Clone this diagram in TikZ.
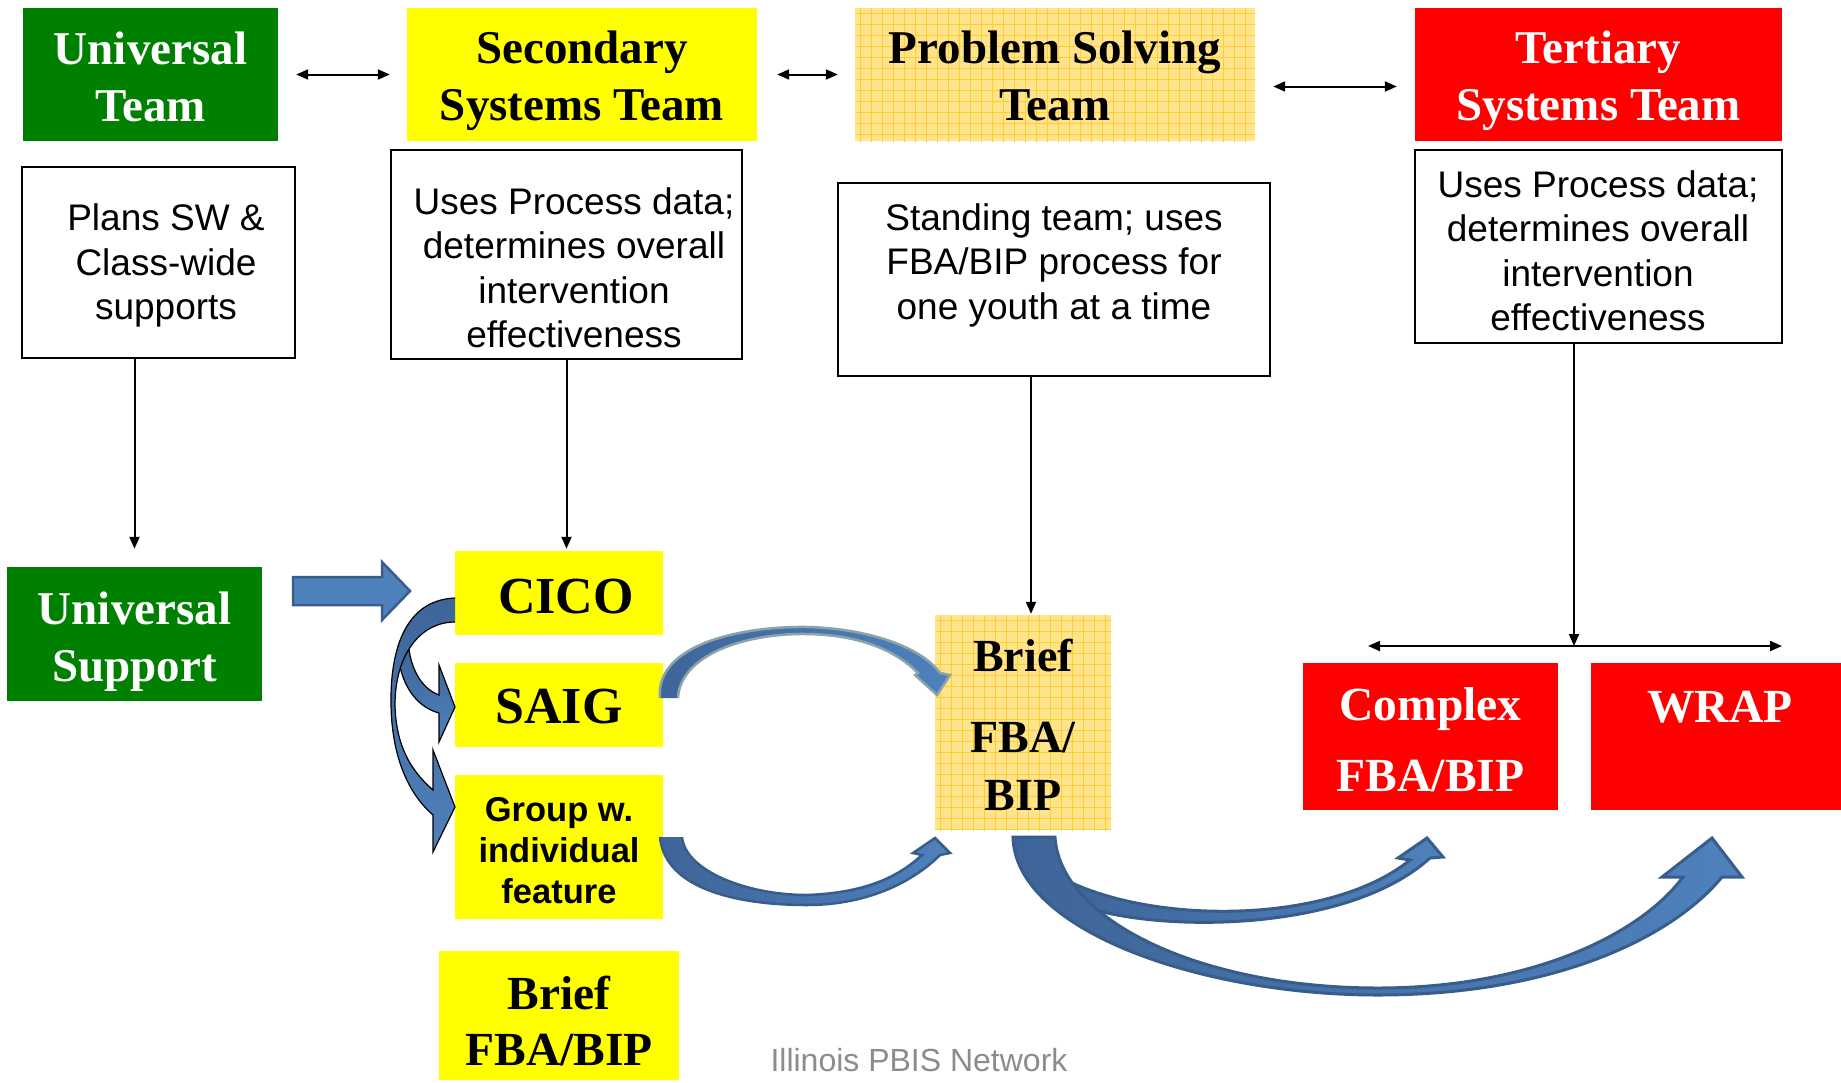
\documentclass[tikz,border=0pt]{standalone}
\usepackage{fontspec}
\setmainfont{Liberation Serif}
\setsansfont{Liberation Sans}
\usetikzlibrary{arrows.meta,calc}
\definecolor{pgreen}{RGB}{0,128,0}
\definecolor{pyellow}{RGB}{255,255,0}
\definecolor{pred}{RGB}{255,0,0}
\definecolor{patbg}{RGB}{255,228,140}
\definecolor{patln}{RGB}{255,206,50}
\definecolor{bblue}{RGB}{79,129,189}
\definecolor{bdark}{RGB}{56,93,138}
\definecolor{bmid}{RGB}{62,101,153}
\definecolor{agrey}{RGB}{139,164,168}
\definecolor{ftgrey}{RGB}{140,140,140}
\begin{document}
\begin{tikzpicture}[x=1pt,y=-1pt,
  box/.style={rectangle, inner sep=0pt},
  tx/.style={inner sep=0pt, align=center},
  hdrT/.style={tx, font=\bfseries\fontsize{47}{57}\selectfont},
  txt/.style={box, draw=black, line width=1.5pt},
  lbl/.style={tx, font=\sffamily\fontsize{37}{44.5}\selectfont},
  pat/.style={fill=patbg, path picture={
    \foreach \k in {0,...,40}{
      \draw[patln, line width=1pt] ($(path picture bounding box.north west)+(\k*11+5,0)$) -- ++(0,300);
      \draw[patln, line width=1pt] ($(path picture bounding box.north west)+(0,\k*11+5)$) -- ++(500,0);
    }}},
  sarr/.style={draw=black, line width=2pt, -{Triangle[length=12pt,width=10pt]}},
  dbl/.style={draw=black, line width=2pt, {Triangle[length=12pt,width=10pt]}-{Triangle[length=12pt,width=10pt]}},
]
\fill[white] (0,0) rectangle (1841,1082);
\useasboundingbox (0,0) rectangle (1841,1082);

% header boxes
\node[box, fill=pgreen, minimum width=255pt, minimum height=133pt] (ut) at (150.5,74.5) {};
\node[hdrT, text=white] (utT) at (150.5,77) {Universal\\Team};
\node[box, fill=pyellow, minimum width=350pt, minimum height=133pt] (st) at (582,74.5) {};
\node[hdrT] (stT) at (582,81) {Secondary\\Systems Team};
\node[box, pat, minimum width=400pt, minimum height=133pt] (pst) at (1055,74.5) {};
\node[hdrT] (pstT) at (1055,75.5) {Problem Solving\\Team};
\node[box, fill=pred, minimum width=367pt, minimum height=133pt] (tt) at (1598.5,74.5) {};
\node[hdrT, text=white] (ttT) at (1598.5,81) {Tertiary\\Systems Team};

% text boxes
\node[txt, minimum width=273pt, minimum height=191pt] (plans) at (158.5,262.5) {};
\node[lbl] (plansT) at (166,265.5) {Plans SW \&\\Class-wide\\supports};
\node[txt, minimum width=351pt, minimum height=209pt] (sec) at (566.5,254.5) {};
\node[lbl] (secT) at (574,268) {Uses Process data;\\determines overall\\intervention\\effectiveness};
\node[txt, minimum width=432pt, minimum height=193pt] (stand) at (1054,279.5) {};
\node[lbl] (standT) at (1054,265) {Standing team; uses\\FBA/BIP process for\\one youth at a time};
\node[txt, minimum width=367pt, minimum height=193pt] (ter) at (1598.5,246.5) {};
\node[lbl] (terT) at (1598,251) {Uses Process data;\\determines overall\\intervention\\effectiveness};

% lower boxes
\node[box, fill=pgreen, minimum width=255pt, minimum height=134pt] (us) at (134.5,634) {};
\node[hdrT, text=white] (usT) at (134.5,642) {Universal\\Support};
\node[box, fill=pyellow, minimum width=208pt, minimum height=84pt] (cico) at (559,593) {};
\node[tx, font=\bfseries\fontsize{52}{60}\selectfont] (cicoT) at (566,596.5) {CICO};
\node[box, fill=pyellow, minimum width=208pt, minimum height=84pt] (saig) at (559,705) {};
\node[tx, font=\bfseries\fontsize{52}{60}\selectfont] (saigT) at (559,707) {SAIG};
\node[box, fill=pyellow, minimum width=208pt, minimum height=144pt] (grp) at (559,847) {};
\node[tx, font=\sffamily\bfseries\fontsize{34.5}{41}\selectfont] (grpT) at (559,850.5) {Group w.\\individual\\feature};
\node[box, fill=pyellow, minimum width=240pt, minimum height=129pt] (bfb) at (559,1015.5) {};
\node[tx, font=\bfseries\fontsize{47.5}{56}\selectfont] (bfbT) at (559,1020.5) {Brief\\FBA/BIP};
\node[box, pat, minimum width=176pt, minimum height=215pt] (mb) at (1023,722.5) {};
\node[tx, font=\bfseries\fontsize{46}{57.5}\selectfont] (mbT) at (1023,724.5) {Brief\\[24pt]FBA/\\BIP};
\node[box, fill=pred, minimum width=255pt, minimum height=147pt] (cx) at (1430.5,736.5) {};
\node[tx, text=white, font=\bfseries\fontsize{47.5}{71}\selectfont] (cxT) at (1430.5,740) {Complex\\FBA/BIP};
\node[box, fill=pred, minimum width=250pt, minimum height=147pt] (wrap) at (1716,736.5) {};
\node[tx, text=white, font=\bfseries\fontsize{47.5}{71}\selectfont] (wrapT) at (1720,707) {WRAP};

\node[inner sep=0pt, font=\sffamily\fontsize{32}{38}\selectfont, text=ftgrey] (foot) at (919,1060) {Illinois PBIS Network};

% header connectors
\draw[dbl] ([xshift=18pt]ut.east) -- ([xshift=-17pt]st.west);
\draw[dbl] ([xshift=20pt]st.east) -- ([xshift=-17pt]pst.west);
\draw[dbl] ([xshift=18pt,yshift=-12pt]pst.east) -- ([xshift=-18pt,yshift=-12pt]tt.west);

% vertical connectors
\draw[sarr] (plans.south -| us.north) -- ([yshift=18pt]us.north);
\draw[sarr, shorten >=2pt] (sec.south) -- (cico.north -| sec.south);
\coordinate (mbin) at ([xshift=8pt]mb.north);
\draw[sarr, shorten >=1pt] (mbin |- stand.south) -- (mbin);
\coordinate (hL) at (1368,646);
\coordinate (hR) at (1782,646);
\coordinate (tdown) at ([xshift=-24.5pt]ter.south);
\draw[sarr] (tdown) -- (tdown |- hL);
\draw[dbl] (hL) -- (hR);

% straight block arrow
\filldraw[fill=bblue, draw=bdark, line width=2.5pt] (293,577) -- (382,577) -- (382,562) -- (410,591) -- (382,620) -- (382,605) -- (293,605) -- cycle;

% left curved arrows
\shadedraw[top color=bmid, bottom color=bblue, draw=black, line width=1.2pt]
 (398,655) .. controls (402,690) and (420,708) .. (439,713) -- (439,742) -- (455,707) -- (439,665) -- (439,695) .. controls (425,690) and (413,675) .. (409,650) -- cycle;
\shadedraw[top color=bmid, bottom color=bblue, draw=black, line width=1.2pt]
 (455,598) .. controls (405,600) and (390,650) .. (391,705) .. controls (392,760) and (410,795) .. (433,815) -- (433,852) -- (455,807) -- (433,750) -- (433,790) .. controls (410,770) and (396,745) .. (395,705) .. controls (395,655) and (420,622) .. (455,622);

% top arc SAIG -> Brief
\shadedraw[left color=bmid, right color=bblue, draw=agrey, line width=2.5pt]
 (660,698) .. controls (655,645) and (740,626) .. (807,627) .. controls (862,628) and (920,645) .. (940,673) -- (950,675) -- (937,695) -- (915,675) -- (918,673) .. controls (895,650) and (860,635) .. (807,634) .. controls (745,633) and (680,655) .. (678,698);

% bottom arc Group -> Brief
\shadedraw[left color=bmid, right color=bblue, draw=bdark, line width=2.5pt]
 (660,837) .. controls (665,890) and (740,905) .. (807,905) .. controls (870,905) and (915,880) .. (940,855) -- (950,853) -- (935,838) -- (913,853) -- (922,855) .. controls (895,880) and (860,893) .. (807,895) .. controls (745,895) and (685,870) .. (682,837);

% big arrows from Brief FBA/BIP
\shadedraw[left color=bmid, right color=bblue, draw=bdark, line width=3pt]
 (1062,878) .. controls (1150,925) and (1330,925) .. (1410,860) -- (1398,858) -- (1427,838) -- (1443,857) -- (1430,858) .. controls (1345,935) and (1150,932) .. (1080,905) -- cycle;
\shadedraw[left color=bmid, right color=bblue, draw=bdark, line width=3pt]
 (1013,837) .. controls (1015,930) and (1200,995) .. (1378,995) .. controls (1550,995) and (1670,940) .. (1722,877) -- (1742,877) -- (1712,838) -- (1662,877) -- (1683,877) .. controls (1640,935) and (1530,988) .. (1378,988) .. controls (1200,988) and (1060,920) .. (1055,837) -- cycle;
\end{tikzpicture}
\end{document}
